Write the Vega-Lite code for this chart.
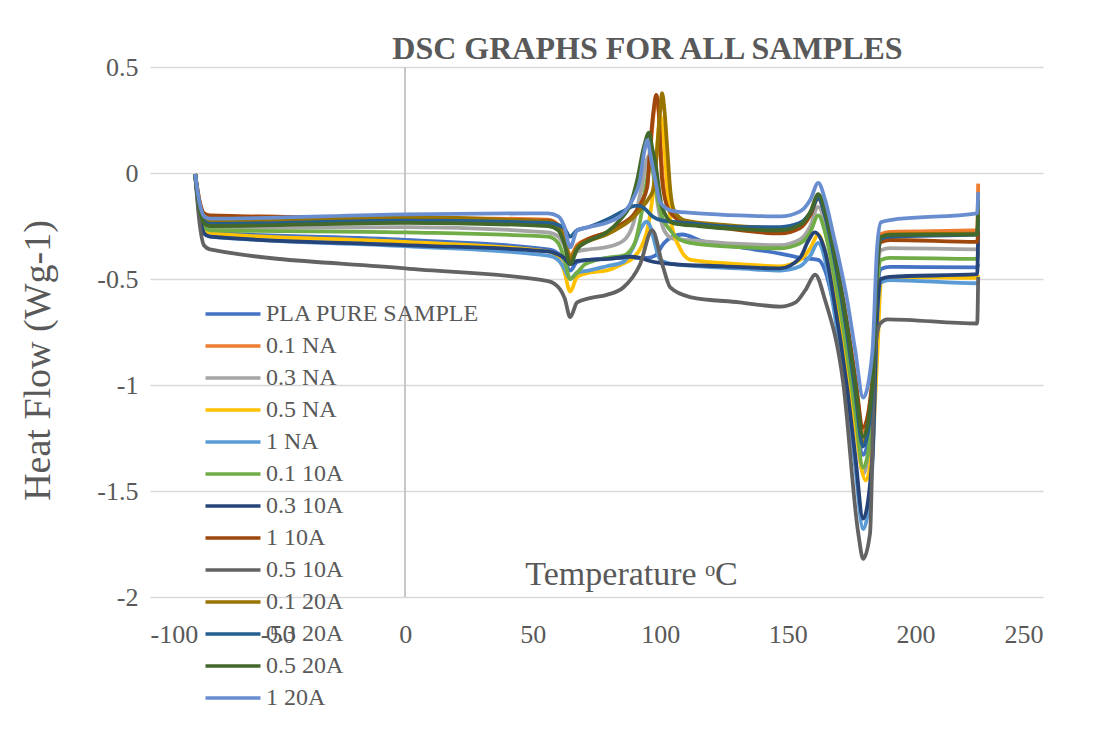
{
"$schema":"https://vega.github.io/schema/vega-lite/v6.json",
"width":893,"height":530,
"autosize":{"type":"none"},
"padding":{"left":150,"top":67,"right":53,"bottom":136},
"background":"white",
"title":{"text":"DSC GRAPHS FOR ALL SAMPLES","font":"Liberation Serif","fontSize":32,"fontWeight":"bold","color":"#595959","anchor":"middle","dx":51,"offset":-12},
"config":{"view":{"stroke":null},"font":"Liberation Serif"},
"data":{"values":[
{"s":"PLA PURE SAMPLE","x":-82.3,"y":-0.005},{"s":"PLA PURE SAMPLE","x":-80.6,"y":-0.182},{"s":"PLA PURE SAMPLE","x":-78.8,"y":-0.266},{"s":"PLA PURE SAMPLE","x":-76.5,"y":-0.28},{"s":"PLA PURE SAMPLE","x":0,"y":-0.315},{"s":"PLA PURE SAMPLE","x":56,"y":-0.36},{"s":"PLA PURE SAMPLE","x":60,"y":-0.38},{"s":"PLA PURE SAMPLE","x":62.3,"y":-0.41},{"s":"PLA PURE SAMPLE","x":64.7,"y":-0.46},{"s":"PLA PURE SAMPLE","x":67.4,"y":-0.42},{"s":"PLA PURE SAMPLE","x":72,"y":-0.41},{"s":"PLA PURE SAMPLE","x":85,"y":-0.4},{"s":"PLA PURE SAMPLE","x":95,"y":-0.4},{"s":"PLA PURE SAMPLE","x":98,"y":-0.39},{"s":"PLA PURE SAMPLE","x":101.5,"y":-0.33},{"s":"PLA PURE SAMPLE","x":105,"y":-0.3},{"s":"PLA PURE SAMPLE","x":108.6,"y":-0.29},{"s":"PLA PURE SAMPLE","x":116,"y":-0.32},{"s":"PLA PURE SAMPLE","x":131,"y":-0.35},{"s":"PLA PURE SAMPLE","x":147,"y":-0.38},{"s":"PLA PURE SAMPLE","x":155,"y":-0.4},{"s":"PLA PURE SAMPLE","x":161.9,"y":-0.41},{"s":"PLA PURE SAMPLE","x":164.6,"y":-0.46},{"s":"PLA PURE SAMPLE","x":167.8,"y":-0.61},{"s":"PLA PURE SAMPLE","x":173.3,"y":-0.916},{"s":"PLA PURE SAMPLE","x":176.4,"y":-1.128},{"s":"PLA PURE SAMPLE","x":179.5,"y":-1.33},{"s":"PLA PURE SAMPLE","x":183.1,"y":-1.108},{"s":"PLA PURE SAMPLE","x":185,"y":-0.576},{"s":"PLA PURE SAMPLE","x":186.5,"y":-0.453},{"s":"PLA PURE SAMPLE","x":190,"y":-0.443},{"s":"PLA PURE SAMPLE","x":224.2,"y":-0.445},{"s":"PLA PURE SAMPLE","x":224.6,"y":-0.43},
{"s":"0.1 NA","x":-82.3,"y":-0.005},{"s":"0.1 NA","x":-80.6,"y":-0.133},{"s":"0.1 NA","x":-78.8,"y":-0.195},{"s":"0.1 NA","x":-76.5,"y":-0.205},{"s":"0.1 NA","x":0,"y":-0.21},{"s":"0.1 NA","x":56,"y":-0.22},{"s":"0.1 NA","x":60,"y":-0.245},{"s":"0.1 NA","x":62.3,"y":-0.3},{"s":"0.1 NA","x":64.7,"y":-0.39},{"s":"0.1 NA","x":67.4,"y":-0.34},{"s":"0.1 NA","x":72,"y":-0.31},{"s":"0.1 NA","x":79,"y":-0.28},{"s":"0.1 NA","x":85,"y":-0.24},{"s":"0.1 NA","x":89.4,"y":-0.2},{"s":"0.1 NA","x":92.5,"y":-0.14},{"s":"0.1 NA","x":94.9,"y":-0.05},{"s":"0.1 NA","x":96.2,"y":0.12},{"s":"0.1 NA","x":97.6,"y":0.3},{"s":"0.1 NA","x":98.6,"y":0.34},{"s":"0.1 NA","x":99.6,"y":0.25},{"s":"0.1 NA","x":100.4,"y":0.08},{"s":"0.1 NA","x":101.2,"y":-0.05},{"s":"0.1 NA","x":103,"y":-0.16},{"s":"0.1 NA","x":106,"y":-0.21},{"s":"0.1 NA","x":110,"y":-0.23},{"s":"0.1 NA","x":125,"y":-0.25},{"s":"0.1 NA","x":147,"y":-0.27},{"s":"0.1 NA","x":154.8,"y":-0.246},{"s":"0.1 NA","x":158.8,"y":-0.19},{"s":"0.1 NA","x":161.9,"y":-0.11},{"s":"0.1 NA","x":164.6,"y":-0.19},{"s":"0.1 NA","x":167.8,"y":-0.354},{"s":"0.1 NA","x":173.3,"y":-0.72},{"s":"0.1 NA","x":176.4,"y":-0.976},{"s":"0.1 NA","x":179.5,"y":-1.22},{"s":"0.1 NA","x":183.1,"y":-0.985},{"s":"0.1 NA","x":185,"y":-0.42},{"s":"0.1 NA","x":186.5,"y":-0.288},{"s":"0.1 NA","x":190,"y":-0.278},{"s":"0.1 NA","x":224.2,"y":-0.27},{"s":"0.1 NA","x":224.6,"y":-0.05},
{"s":"0.3 NA","x":-82.3,"y":-0.005},{"s":"0.3 NA","x":-80.6,"y":-0.169},{"s":"0.3 NA","x":-78.8,"y":-0.247},{"s":"0.3 NA","x":-76.5,"y":-0.26},{"s":"0.3 NA","x":0,"y":-0.255},{"s":"0.3 NA","x":56,"y":-0.28},{"s":"0.3 NA","x":60,"y":-0.3},{"s":"0.3 NA","x":62.3,"y":-0.34},{"s":"0.3 NA","x":64.7,"y":-0.41},{"s":"0.3 NA","x":67.4,"y":-0.37},{"s":"0.3 NA","x":72,"y":-0.36},{"s":"0.3 NA","x":79,"y":-0.35},{"s":"0.3 NA","x":85.5,"y":-0.32},{"s":"0.3 NA","x":89.4,"y":-0.24},{"s":"0.3 NA","x":92.5,"y":-0.08},{"s":"0.3 NA","x":95.5,"y":0.08},{"s":"0.3 NA","x":97.2,"y":0.02},{"s":"0.3 NA","x":99,"y":-0.15},{"s":"0.3 NA","x":101.5,"y":-0.27},{"s":"0.3 NA","x":105,"y":-0.31},{"s":"0.3 NA","x":115,"y":-0.32},{"s":"0.3 NA","x":131,"y":-0.335},{"s":"0.3 NA","x":147,"y":-0.34},{"s":"0.3 NA","x":154.8,"y":-0.313},{"s":"0.3 NA","x":158.8,"y":-0.25},{"s":"0.3 NA","x":161.9,"y":-0.16},{"s":"0.3 NA","x":164.6,"y":-0.24},{"s":"0.3 NA","x":167.8,"y":-0.437},{"s":"0.3 NA","x":173.3,"y":-0.853},{"s":"0.3 NA","x":176.4,"y":-1.143},{"s":"0.3 NA","x":179.5,"y":-1.42},{"s":"0.3 NA","x":183.1,"y":-1.153},{"s":"0.3 NA","x":185,"y":-0.514},{"s":"0.3 NA","x":186.5,"y":-0.364},{"s":"0.3 NA","x":190,"y":-0.354},{"s":"0.3 NA","x":224.2,"y":-0.36},{"s":"0.3 NA","x":224.6,"y":-0.33},
{"s":"0.5 NA","x":-82.3,"y":-0.005},{"s":"0.5 NA","x":-80.6,"y":-0.185},{"s":"0.5 NA","x":-78.8,"y":-0.271},{"s":"0.5 NA","x":-76.5,"y":-0.285},{"s":"0.5 NA","x":0,"y":-0.325},{"s":"0.5 NA","x":56,"y":-0.37},{"s":"0.5 NA","x":60,"y":-0.4},{"s":"0.5 NA","x":62.3,"y":-0.46},{"s":"0.5 NA","x":64.7,"y":-0.56},{"s":"0.5 NA","x":67.4,"y":-0.49},{"s":"0.5 NA","x":72,"y":-0.47},{"s":"0.5 NA","x":79,"y":-0.46},{"s":"0.5 NA","x":85,"y":-0.43},{"s":"0.5 NA","x":89.4,"y":-0.4},{"s":"0.5 NA","x":92.5,"y":-0.35},{"s":"0.5 NA","x":94.9,"y":-0.27},{"s":"0.5 NA","x":96.8,"y":-0.13},{"s":"0.5 NA","x":98.5,"y":0.08},{"s":"0.5 NA","x":100,"y":0.27},{"s":"0.5 NA","x":101.2,"y":0.18},{"s":"0.5 NA","x":102.5,"y":-0.02},{"s":"0.5 NA","x":104,"y":-0.22},{"s":"0.5 NA","x":107.5,"y":-0.35},{"s":"0.5 NA","x":112,"y":-0.41},{"s":"0.5 NA","x":131,"y":-0.43},{"s":"0.5 NA","x":147,"y":-0.44},{"s":"0.5 NA","x":154.8,"y":-0.41},{"s":"0.5 NA","x":158.8,"y":-0.355},{"s":"0.5 NA","x":161.9,"y":-0.29},{"s":"0.5 NA","x":164.6,"y":-0.37},{"s":"0.5 NA","x":167.8,"y":-0.545},{"s":"0.5 NA","x":173.3,"y":-0.928},{"s":"0.5 NA","x":176.4,"y":-1.195},{"s":"0.5 NA","x":180.5,"y":-1.45},{"s":"0.5 NA","x":183.1,"y":-1.3},{"s":"0.5 NA","x":185,"y":-0.874},{"s":"0.5 NA","x":186.5,"y":-0.52},{"s":"0.5 NA","x":190,"y":-0.49},{"s":"0.5 NA","x":224.2,"y":-0.495},{"s":"0.5 NA","x":224.6,"y":-0.48},
{"s":"1 NA","x":-82.3,"y":-0.005},{"s":"1 NA","x":-80.6,"y":-0.195},{"s":"1 NA","x":-78.8,"y":-0.285},{"s":"1 NA","x":-76.5,"y":-0.3},{"s":"1 NA","x":0,"y":-0.345},{"s":"1 NA","x":56,"y":-0.39},{"s":"1 NA","x":60,"y":-0.41},{"s":"1 NA","x":62.3,"y":-0.45},{"s":"1 NA","x":64.7,"y":-0.5},{"s":"1 NA","x":67.4,"y":-0.47},{"s":"1 NA","x":72,"y":-0.46},{"s":"1 NA","x":79,"y":-0.44},{"s":"1 NA","x":85.5,"y":-0.42},{"s":"1 NA","x":89.4,"y":-0.35},{"s":"1 NA","x":92.5,"y":-0.26},{"s":"1 NA","x":94.5,"y":-0.23},{"s":"1 NA","x":96,"y":-0.25},{"s":"1 NA","x":97.2,"y":-0.3},{"s":"1 NA","x":100,"y":-0.41},{"s":"1 NA","x":105,"y":-0.43},{"s":"1 NA","x":115,"y":-0.44},{"s":"1 NA","x":131,"y":-0.45},{"s":"1 NA","x":147,"y":-0.46},{"s":"1 NA","x":154.8,"y":-0.44},{"s":"1 NA","x":158.8,"y":-0.39},{"s":"1 NA","x":161.9,"y":-0.33},{"s":"1 NA","x":164.6,"y":-0.41},{"s":"1 NA","x":167.8,"y":-0.627},{"s":"1 NA","x":173.3,"y":-1.073},{"s":"1 NA","x":176.4,"y":-1.383},{"s":"1 NA","x":179.5,"y":-1.68},{"s":"1 NA","x":183.1,"y":-1.386},{"s":"1 NA","x":185,"y":-0.681},{"s":"1 NA","x":186.5,"y":-0.515},{"s":"1 NA","x":190,"y":-0.505},{"s":"1 NA","x":224.2,"y":-0.52},{"s":"1 NA","x":224.6,"y":-0.51},
{"s":"0.1 10A","x":-82.3,"y":-0.005},{"s":"0.1 10A","x":-80.6,"y":-0.176},{"s":"0.1 10A","x":-78.8,"y":-0.257},{"s":"0.1 10A","x":-76.5,"y":-0.27},{"s":"0.1 10A","x":0,"y":-0.28},{"s":"0.1 10A","x":56,"y":-0.3},{"s":"0.1 10A","x":60,"y":-0.33},{"s":"0.1 10A","x":62.3,"y":-0.4},{"s":"0.1 10A","x":64.7,"y":-0.5},{"s":"0.1 10A","x":67.4,"y":-0.47},{"s":"0.1 10A","x":70.6,"y":-0.43},{"s":"0.1 10A","x":79,"y":-0.4},{"s":"0.1 10A","x":85.5,"y":-0.39},{"s":"0.1 10A","x":90,"y":-0.33},{"s":"0.1 10A","x":92.5,"y":-0.2},{"s":"0.1 10A","x":94.5,"y":-0.05},{"s":"0.1 10A","x":96.3,"y":0.04},{"s":"0.1 10A","x":98,"y":-0.06},{"s":"0.1 10A","x":100.5,"y":-0.2},{"s":"0.1 10A","x":103.9,"y":-0.27},{"s":"0.1 10A","x":106,"y":-0.3},{"s":"0.1 10A","x":111.7,"y":-0.33},{"s":"0.1 10A","x":131,"y":-0.35},{"s":"0.1 10A","x":147,"y":-0.355},{"s":"0.1 10A","x":154.8,"y":-0.332},{"s":"0.1 10A","x":158.8,"y":-0.278},{"s":"0.1 10A","x":161.9,"y":-0.2},{"s":"0.1 10A","x":164.6,"y":-0.28},{"s":"0.1 10A","x":167.8,"y":-0.462},{"s":"0.1 10A","x":173.3,"y":-0.855},{"s":"0.1 10A","x":176.4,"y":-1.128},{"s":"0.1 10A","x":179.5,"y":-1.39},{"s":"0.1 10A","x":183.1,"y":-1.143},{"s":"0.1 10A","x":185,"y":-0.55},{"s":"0.1 10A","x":186.5,"y":-0.41},{"s":"0.1 10A","x":190,"y":-0.4},{"s":"0.1 10A","x":224.2,"y":-0.405},{"s":"0.1 10A","x":224.6,"y":-0.37},
{"s":"0.3 10A","x":-82.3,"y":-0.005},{"s":"0.3 10A","x":-80.6,"y":-0.195},{"s":"0.3 10A","x":-78.8,"y":-0.285},{"s":"0.3 10A","x":-76.5,"y":-0.3},{"s":"0.3 10A","x":0,"y":-0.34},{"s":"0.3 10A","x":56,"y":-0.37},{"s":"0.3 10A","x":60,"y":-0.385},{"s":"0.3 10A","x":62.3,"y":-0.4},{"s":"0.3 10A","x":64.7,"y":-0.43},{"s":"0.3 10A","x":67.4,"y":-0.415},{"s":"0.3 10A","x":72,"y":-0.41},{"s":"0.3 10A","x":80,"y":-0.405},{"s":"0.3 10A","x":88,"y":-0.395},{"s":"0.3 10A","x":92,"y":-0.4},{"s":"0.3 10A","x":96,"y":-0.415},{"s":"0.3 10A","x":105,"y":-0.43},{"s":"0.3 10A","x":125,"y":-0.44},{"s":"0.3 10A","x":147,"y":-0.45},{"s":"0.3 10A","x":154.8,"y":-0.4},{"s":"0.3 10A","x":158,"y":-0.32},{"s":"0.3 10A","x":160.5,"y":-0.28},{"s":"0.3 10A","x":164.6,"y":-0.37},{"s":"0.3 10A","x":167.8,"y":-0.577},{"s":"0.3 10A","x":173.3,"y":-1.02},{"s":"0.3 10A","x":176.4,"y":-1.333},{"s":"0.3 10A","x":179.5,"y":-1.63},{"s":"0.3 10A","x":183.1,"y":-1.345},{"s":"0.3 10A","x":185,"y":-0.661},{"s":"0.3 10A","x":186.5,"y":-0.5},{"s":"0.3 10A","x":190,"y":-0.49},{"s":"0.3 10A","x":224.2,"y":-0.477},{"s":"0.3 10A","x":224.6,"y":-0.28},
{"s":"1 10A","x":-82.3,"y":-0.005},{"s":"1 10A","x":-80.6,"y":-0.13},{"s":"1 10A","x":-78.8,"y":-0.19},{"s":"1 10A","x":-76.5,"y":-0.2},{"s":"1 10A","x":0,"y":-0.215},{"s":"1 10A","x":56,"y":-0.225},{"s":"1 10A","x":60,"y":-0.25},{"s":"1 10A","x":62.3,"y":-0.31},{"s":"1 10A","x":64.7,"y":-0.41},{"s":"1 10A","x":67.4,"y":-0.35},{"s":"1 10A","x":72,"y":-0.31},{"s":"1 10A","x":79,"y":-0.28},{"s":"1 10A","x":85,"y":-0.24},{"s":"1 10A","x":89.4,"y":-0.2},{"s":"1 10A","x":92.5,"y":-0.14},{"s":"1 10A","x":94.9,"y":-0.066},{"s":"1 10A","x":96,"y":0.12},{"s":"1 10A","x":97.4,"y":0.3},{"s":"1 10A","x":98.4,"y":0.368},{"s":"1 10A","x":99.4,"y":0.3},{"s":"1 10A","x":100,"y":0.12},{"s":"1 10A","x":100.7,"y":-0.03},{"s":"1 10A","x":102.5,"y":-0.15},{"s":"1 10A","x":105,"y":-0.2},{"s":"1 10A","x":110,"y":-0.235},{"s":"1 10A","x":125,"y":-0.26},{"s":"1 10A","x":147,"y":-0.285},{"s":"1 10A","x":154.8,"y":-0.26},{"s":"1 10A","x":158.8,"y":-0.2},{"s":"1 10A","x":161.9,"y":-0.12},{"s":"1 10A","x":164.6,"y":-0.2},{"s":"1 10A","x":167.8,"y":-0.358},{"s":"1 10A","x":173.3,"y":-0.714},{"s":"1 10A","x":176.4,"y":-0.962},{"s":"1 10A","x":179.5,"y":-1.2},{"s":"1 10A","x":183.1,"y":-0.979},{"s":"1 10A","x":185,"y":-0.449},{"s":"1 10A","x":186.5,"y":-0.326},{"s":"1 10A","x":190,"y":-0.316},{"s":"1 10A","x":224.2,"y":-0.325},{"s":"1 10A","x":224.6,"y":-0.27},
{"s":"0.5 10A","x":-82.3,"y":-0.005},{"s":"0.5 10A","x":-80.6,"y":-0.234},{"s":"0.5 10A","x":-78.8,"y":-0.342},{"s":"0.5 10A","x":-76.5,"y":-0.36},{"s":"0.5 10A","x":0,"y":-0.45},{"s":"0.5 10A","x":56,"y":-0.51},{"s":"0.5 10A","x":60.8,"y":-0.55},{"s":"0.5 10A","x":62.5,"y":-0.59},{"s":"0.5 10A","x":64.7,"y":-0.68},{"s":"0.5 10A","x":67.4,"y":-0.61},{"s":"0.5 10A","x":72.5,"y":-0.59},{"s":"0.5 10A","x":79,"y":-0.575},{"s":"0.5 10A","x":85.5,"y":-0.54},{"s":"0.5 10A","x":92.1,"y":-0.43},{"s":"0.5 10A","x":96.8,"y":-0.27},{"s":"0.5 10A","x":101,"y":-0.44},{"s":"0.5 10A","x":103.9,"y":-0.54},{"s":"0.5 10A","x":111.7,"y":-0.585},{"s":"0.5 10A","x":131,"y":-0.61},{"s":"0.5 10A","x":147,"y":-0.63},{"s":"0.5 10A","x":153,"y":-0.61},{"s":"0.5 10A","x":157,"y":-0.55},{"s":"0.5 10A","x":160.7,"y":-0.48},{"s":"0.5 10A","x":164.6,"y":-0.6},{"s":"0.5 10A","x":171.7,"y":-0.99},{"s":"0.5 10A","x":177.6,"y":-1.7},{"s":"0.5 10A","x":179.5,"y":-1.82},{"s":"0.5 10A","x":182.2,"y":-1.7},{"s":"0.5 10A","x":184.2,"y":-0.83},{"s":"0.5 10A","x":186.2,"y":-0.71},{"s":"0.5 10A","x":189,"y":-0.69},{"s":"0.5 10A","x":224.2,"y":-0.71},{"s":"0.5 10A","x":224.6,"y":-0.49},
{"s":"0.1 20A","x":-82.3,"y":-0.005},{"s":"0.1 20A","x":-80.6,"y":-0.15},{"s":"0.1 20A","x":-78.8,"y":-0.219},{"s":"0.1 20A","x":-76.5,"y":-0.23},{"s":"0.1 20A","x":0,"y":-0.21},{"s":"0.1 20A","x":56,"y":-0.23},{"s":"0.1 20A","x":60,"y":-0.25},{"s":"0.1 20A","x":62.3,"y":-0.31},{"s":"0.1 20A","x":64.7,"y":-0.4},{"s":"0.1 20A","x":67.4,"y":-0.35},{"s":"0.1 20A","x":72,"y":-0.32},{"s":"0.1 20A","x":79,"y":-0.29},{"s":"0.1 20A","x":85,"y":-0.25},{"s":"0.1 20A","x":89.4,"y":-0.21},{"s":"0.1 20A","x":93,"y":-0.16},{"s":"0.1 20A","x":95.5,"y":-0.12},{"s":"0.1 20A","x":97.2,"y":-0.08},{"s":"0.1 20A","x":98.8,"y":0.12},{"s":"0.1 20A","x":100,"y":0.3},{"s":"0.1 20A","x":100.7,"y":0.377},{"s":"0.1 20A","x":101.6,"y":0.3},{"s":"0.1 20A","x":102.7,"y":0.12},{"s":"0.1 20A","x":103.9,"y":-0.08},{"s":"0.1 20A","x":105.5,"y":-0.18},{"s":"0.1 20A","x":110,"y":-0.225},{"s":"0.1 20A","x":125,"y":-0.245},{"s":"0.1 20A","x":147,"y":-0.26},{"s":"0.1 20A","x":154.8,"y":-0.238},{"s":"0.1 20A","x":158.8,"y":-0.185},{"s":"0.1 20A","x":161.9,"y":-0.11},{"s":"0.1 20A","x":164.6,"y":-0.19},{"s":"0.1 20A","x":167.8,"y":-0.365},{"s":"0.1 20A","x":173.3,"y":-0.748},{"s":"0.1 20A","x":176.4,"y":-1.015},{"s":"0.1 20A","x":179.5,"y":-1.27},{"s":"0.1 20A","x":183.1,"y":-1.025},{"s":"0.1 20A","x":185,"y":-0.437},{"s":"0.1 20A","x":186.5,"y":-0.3},{"s":"0.1 20A","x":190,"y":-0.29},{"s":"0.1 20A","x":224.2,"y":-0.285},{"s":"0.1 20A","x":224.6,"y":-0.2},
{"s":"0.3 20A","x":-82.3,"y":-0.005},{"s":"0.3 20A","x":-80.6,"y":-0.156},{"s":"0.3 20A","x":-78.8,"y":-0.228},{"s":"0.3 20A","x":-76.5,"y":-0.24},{"s":"0.3 20A","x":0,"y":-0.225},{"s":"0.3 20A","x":56,"y":-0.235},{"s":"0.3 20A","x":60,"y":-0.245},{"s":"0.3 20A","x":62.3,"y":-0.26},{"s":"0.3 20A","x":64.7,"y":-0.3},{"s":"0.3 20A","x":67.4,"y":-0.27},{"s":"0.3 20A","x":72,"y":-0.255},{"s":"0.3 20A","x":79,"y":-0.22},{"s":"0.3 20A","x":85.5,"y":-0.18},{"s":"0.3 20A","x":90,"y":-0.155},{"s":"0.3 20A","x":92,"y":-0.155},{"s":"0.3 20A","x":94,"y":-0.17},{"s":"0.3 20A","x":97,"y":-0.205},{"s":"0.3 20A","x":101,"y":-0.225},{"s":"0.3 20A","x":110,"y":-0.235},{"s":"0.3 20A","x":131,"y":-0.255},{"s":"0.3 20A","x":147,"y":-0.255},{"s":"0.3 20A","x":154.8,"y":-0.235},{"s":"0.3 20A","x":158.8,"y":-0.188},{"s":"0.3 20A","x":161.9,"y":-0.12},{"s":"0.3 20A","x":164.6,"y":-0.2},{"s":"0.3 20A","x":167.8,"y":-0.377},{"s":"0.3 20A","x":173.3,"y":-0.764},{"s":"0.3 20A","x":176.4,"y":-1.033},{"s":"0.3 20A","x":179.5,"y":-1.29},{"s":"0.3 20A","x":183.1,"y":-1.04},{"s":"0.3 20A","x":185,"y":-0.45},{"s":"0.3 20A","x":186.5,"y":-0.31},{"s":"0.3 20A","x":190,"y":-0.3},{"s":"0.3 20A","x":224.2,"y":-0.29},{"s":"0.3 20A","x":224.6,"y":-0.22},
{"s":"0.5 20A","x":-82.3,"y":-0.005},{"s":"0.5 20A","x":-80.6,"y":-0.163},{"s":"0.5 20A","x":-78.8,"y":-0.238},{"s":"0.5 20A","x":-76.5,"y":-0.25},{"s":"0.5 20A","x":0,"y":-0.235},{"s":"0.5 20A","x":56,"y":-0.25},{"s":"0.5 20A","x":60,"y":-0.27},{"s":"0.5 20A","x":62.3,"y":-0.33},{"s":"0.5 20A","x":64.7,"y":-0.43},{"s":"0.5 20A","x":67.4,"y":-0.36},{"s":"0.5 20A","x":72,"y":-0.32},{"s":"0.5 20A","x":79,"y":-0.28},{"s":"0.5 20A","x":84.3,"y":-0.22},{"s":"0.5 20A","x":88.2,"y":-0.15},{"s":"0.5 20A","x":91,"y":-0.03},{"s":"0.5 20A","x":93.7,"y":0.13},{"s":"0.5 20A","x":95.6,"y":0.19},{"s":"0.5 20A","x":96.8,"y":0.12},{"s":"0.5 20A","x":98,"y":0.05},{"s":"0.5 20A","x":100.7,"y":-0.16},{"s":"0.5 20A","x":105,"y":-0.236},{"s":"0.5 20A","x":115,"y":-0.25},{"s":"0.5 20A","x":131,"y":-0.265},{"s":"0.5 20A","x":147,"y":-0.27},{"s":"0.5 20A","x":154.8,"y":-0.245},{"s":"0.5 20A","x":158.8,"y":-0.185},{"s":"0.5 20A","x":161.9,"y":-0.1},{"s":"0.5 20A","x":164.6,"y":-0.18},{"s":"0.5 20A","x":167.8,"y":-0.352},{"s":"0.5 20A","x":173.3,"y":-0.73},{"s":"0.5 20A","x":176.4,"y":-0.993},{"s":"0.5 20A","x":179.5,"y":-1.245},{"s":"0.5 20A","x":183.1,"y":-1.007},{"s":"0.5 20A","x":185,"y":-0.435},{"s":"0.5 20A","x":186.5,"y":-0.302},{"s":"0.5 20A","x":190,"y":-0.292},{"s":"0.5 20A","x":224.2,"y":-0.29},{"s":"0.5 20A","x":224.6,"y":-0.13},
{"s":"1 20A","x":-82.3,"y":-0.005},{"s":"1 20A","x":-80.6,"y":-0.14},{"s":"1 20A","x":-78.8,"y":-0.204},{"s":"1 20A","x":-76.5,"y":-0.215},{"s":"1 20A","x":0,"y":-0.195},{"s":"1 20A","x":56,"y":-0.19},{"s":"1 20A","x":60,"y":-0.205},{"s":"1 20A","x":62.3,"y":-0.25},{"s":"1 20A","x":64.7,"y":-0.35},{"s":"1 20A","x":67.4,"y":-0.27},{"s":"1 20A","x":72,"y":-0.255},{"s":"1 20A","x":79,"y":-0.235},{"s":"1 20A","x":85.5,"y":-0.19},{"s":"1 20A","x":89.4,"y":-0.12},{"s":"1 20A","x":92.1,"y":-0.03},{"s":"1 20A","x":93.7,"y":0.1},{"s":"1 20A","x":94.9,"y":0.155},{"s":"1 20A","x":96.2,"y":0.08},{"s":"1 20A","x":98,"y":-0.03},{"s":"1 20A","x":100,"y":-0.14},{"s":"1 20A","x":105,"y":-0.18},{"s":"1 20A","x":115,"y":-0.19},{"s":"1 20A","x":131,"y":-0.2},{"s":"1 20A","x":147,"y":-0.205},{"s":"1 20A","x":154.8,"y":-0.181},{"s":"1 20A","x":158.8,"y":-0.126},{"s":"1 20A","x":161.9,"y":-0.047},{"s":"1 20A","x":164.6,"y":-0.127},{"s":"1 20A","x":167.8,"y":-0.29},{"s":"1 20A","x":173.3,"y":-0.604},{"s":"1 20A","x":176.4,"y":-0.837},{"s":"1 20A","x":179.5,"y":-1.06},{"s":"1 20A","x":183.1,"y":-0.85},{"s":"1 20A","x":185,"y":-0.348},{"s":"1 20A","x":186.5,"y":-0.232},{"s":"1 20A","x":190,"y":-0.222},{"s":"1 20A","x":224.2,"y":-0.19},{"s":"1 20A","x":224.6,"y":-0.09}
]},
"layer":[
{"mark":{"type":"rule","color":"#C8C8C8","strokeWidth":1.5},
 "encoding":{"x":{"datum":0,"type":"quantitative","scale":{"domain":[-100,250],"nice":false}}}},
{"mark":{"type":"line","strokeWidth":3.8,"interpolate":"monotone"},
 "encoding":{
  "x":{"field":"x","type":"quantitative","scale":{"domain":[-100,250],"nice":false},
   "axis":{"values":[-100,-50,0,50,100,150,200,250],"grid":false,"domain":false,"ticks":false,"labelExpr":"'' + datum.value","labelFont":"Liberation Serif","labelFontSize":26,"labelColor":"#595959","labelPadding":24,"title":"Temperature ᵒC","titleX":481,"titleY":-13,"titleBaseline":"alphabetic","titleAlign":"center","titleFont":"Liberation Serif","titleFontSize":34,"titleFontWeight":"normal","titleColor":"#595959"}},
  "y":{"field":"y","type":"quantitative","scale":{"domain":[-2,0.5],"nice":false,"zero":false},
   "axis":{"values":[-2,-1.5,-1,-0.5,0,0.5],"grid":true,"gridColor":"#D9D9D9","gridWidth":1.5,"domain":false,"ticks":false,"labelExpr":"'' + datum.value","labelFont":"Liberation Serif","labelFontSize":26,"labelColor":"#595959","labelPadding":12,"title":"Heat Flow (Wg-1)","titleX":-112,"titleY":293,"titleAngle":-90,"titleAlign":"center","titleBaseline":"middle","titleFont":"Liberation Serif","titleFontSize":38,"titleFontWeight":"normal","titleColor":"#595959"}},
  "color":{"field":"s","type":"nominal",
   "scale":{"domain":["PLA PURE SAMPLE","0.1 NA","0.3 NA","0.5 NA","1 NA","0.1 10A","0.3 10A","1 10A","0.5 10A","0.1 20A","0.3 20A","0.5 20A","1 20A"],
            "range":["#4472C4","#ED7D31","#A5A5A5","#FFC000","#5B9BD5","#70AD47","#264478","#9E480E","#636363","#997300","#255E91","#43682B","#698ED0"]},
   "legend":{"orient":"none","legendX":70,"legendY":234,"title":null,"symbolType":"M-2.5,0H2.5","symbolSize":484,"symbolStrokeWidth":3.5,"labelFont":"Liberation Serif","labelFontSize":24,"labelColor":"#595959","labelOffset":20,"rowPadding":7,"padding":0,"labelLimit":400}}
 }}
]
}
